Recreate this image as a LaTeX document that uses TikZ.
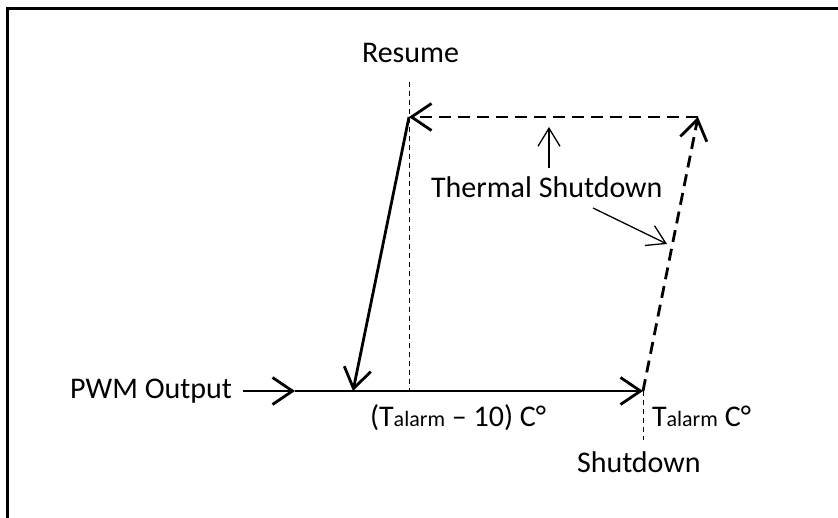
\documentclass[tikz,border=0pt]{standalone}
\usepackage{fontspec}
\setmainfont{Carlito}
\usetikzlibrary{arrows.meta}
\newcommand{\smallsub}[1]{{\fontsize{22pt}{24pt}\selectfont #1}}
\begin{document}
\begin{tikzpicture}[x=1pt,y=-1pt,
  every node/.style={inner sep=0pt,outer sep=0pt,font=\fontsize{30pt}{35pt}\selectfont},
  thickln/.style={line width=2.8pt},
  thinln/.style={line width=1.3pt},
  bigtip/.style={-{Straight Barb[length=20pt,width=27pt,line width=2.8pt]}},
  smalltip/.style={-{Straight Barb[length=18pt,width=22pt,line width=1.3pt]}},
  longdash/.style={dash pattern=on 12pt off 7pt},
  shortdash/.style={line width=1pt,dash pattern=on 5pt off 4pt}
]
\useasboundingbox (0,0) rectangle (838,518);
% frame
\draw[line width=3pt] (7,530) -- (7,9) -- (850,9);

% key points
\coordinate (start) at (243,391);
\coordinate (mid) at (295,391);
\coordinate (low) at (353,391);
\coordinate (resbase) at (409,391);
\coordinate (shut) at (643,391);
\coordinate (topL) at (409,117);
\coordinate (topR) at (698,117);
\coordinate (restop) at (409,82);
\coordinate (shutbot) at (643,440);

% texts
\node[anchor=base east] (pwm) at (232,399) {PWM Output};
\node[anchor=base west] (resume) at (362,63) {Resume};
\node[anchor=base west] (therm) at (431,198) {Thermal Shutdown};
\node[anchor=base west] (tlow) at (370,427) {(T\smallsub{alarm} -- 10) C°};
\node[anchor=base west] (thigh) at (652,426) {T\smallsub{alarm} C°};
\node[anchor=base west] (shutdown) at (577,472) {Shutdown};

% thin dashed markers
\draw[shortdash] (restop) -- (resbase);
\draw[shortdash] (shut) -- (shutbot);

% main path
\draw[thickln,bigtip] (start) -- (mid);
\draw[thickln,bigtip] (mid) -- (shut);
\draw[thickln,bigtip] (topL) -- (low);
\draw[thickln,longdash,bigtip] (shut) -- (topR);
\draw[thickln,longdash,bigtip] (topR) -- (topL);

% annotation arrows
\coordinate (upfrom) at (549,168);
\coordinate (upto) at (549,127);
\draw[thinln,smalltip] (upfrom) -- (upto);
\coordinate (dfrom) at (593,208);
\coordinate (dto) at (667,244);
\draw[thinln,smalltip] (dfrom) -- (dto);
\end{tikzpicture}
\end{document}
